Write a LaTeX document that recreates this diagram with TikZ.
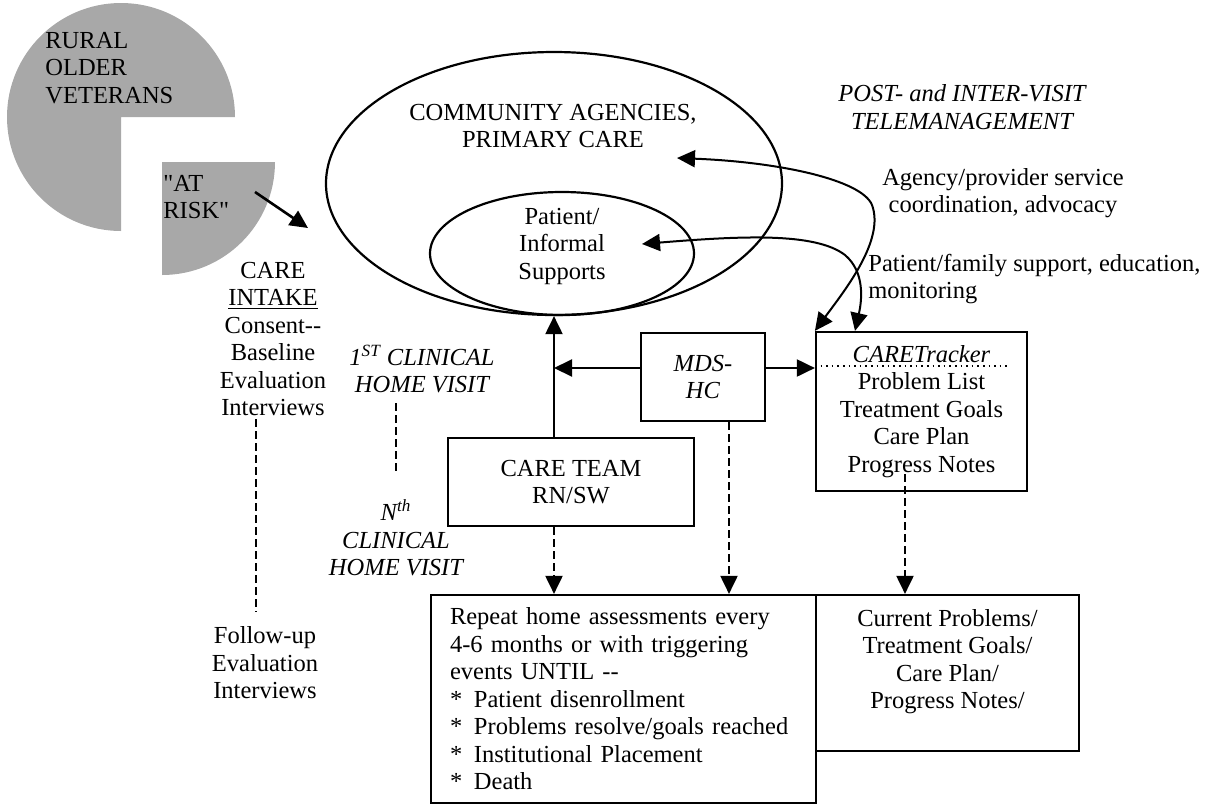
\documentclass[tikz,border=0pt]{standalone}
\usepackage{fontspec}
\setmainfont{Liberation Serif}
\newfontfamily\plainserif{Liberation Serif}
\usetikzlibrary{shapes.geometric,arrows.meta,positioning}
\definecolor{halftone}{gray}{0.66}
\newcommand\diagfont{\fontsize{12.25}{13.75}\selectfont}

\begin{document}
\begin{tikzpicture}[x=0.5pt,y=-0.5pt,>={Triangle[length=9pt,width=8.5pt]},
  txt/.style={inner sep=0pt,align=center,font=\diagfont},
  itxt/.style={txt,font=\diagfont\itshape},
  box/.style={draw,line width=1.1pt,inner sep=0pt,align=center,font=\diagfont},
  oval/.style={draw,ellipse,line width=1.1pt,inner sep=0pt},
  dashline/.style={line width=1pt,dash pattern=on 4pt off 2pt},
  link/.style={->,line width=1pt}]
 \useasboundingbox (0,0) rectangle (1207,805);

 % population and the at-risk slice
 \fill[halftone] (121,117) -- (121,231) arc[start angle=90,end angle=360,radius=114] -- cycle;
 \fill[halftone] (162,162) -- (275,162) arc[start angle=0,end angle=90,radius=113] -- cycle;
 \node[txt,align=left,anchor=west] (rural) at (45,68) {RURAL\\OLDER\\VETERANS};
 \node[txt,align=left,anchor=west,font=\diagfont\plainserif] (risk) at (163,197) {"AT\\RISK"};

 % community
 \node[oval,minimum width=228pt,minimum height=131.5pt] (comm) at (554,183.5) {};
 \node[oval,minimum width=132pt,minimum height=61.5pt] (supp) at (562,253.5) {};
 \node[txt] (commtxt) at (553,126) {COMMUNITY AGENCIES,\\PRIMARY CARE};
 \node[txt] (supptxt) at (562,246) {Patient/\\Informal\\Supports};

 % evaluation column and visits
 \node[txt] (intake) at (273,339) {CARE\\\underline{INTAKE}\\Consent-{}-\\Baseline\\Evaluation\\Interviews};
 \node[txt] (followup) at (265,663) {Follow-up\\Evaluation\\Interviews};
 \node[itxt] (first) at (422,369) {1\textsuperscript{ST} CLINICAL\\HOME VISIT};
 \node[itxt] (nth) at (396,538) {N\textsuperscript{th}\\CLINICAL\\HOME VISIT};

 % boxes
 \node[box,minimum width=62pt,minimum height=44pt,font=\diagfont\itshape] (mds) at (703,377) {MDS-\\HC};
 \node[box,minimum width=123pt,minimum height=44pt] (team) at (571,482) {CARE TEAM\\RN/SW};
 \node[box,minimum width=105.5pt,minimum height=79.5pt] (tracker) at (921.5,411.5)
   {\textit{CARETracker}\\Problem List\\Treatment Goals\\Care Plan\\Progress Notes};
 \node[box,minimum width=192.5pt,minimum height=104pt,text width=173.5pt,align=left] (repeat) at (623.5,699)
   {Repeat home assessments every\\4-6 months or with triggering\\events UNTIL -{}-\\
    \makebox[12pt][l]{*}Patient disenrollment\\\makebox[12pt][l]{*}Problems resolve/goals reached\\
    \makebox[12pt][l]{*}Institutional Placement\\\makebox[12pt][l]{*}Death};
 \node[box,minimum width=131.5pt,minimum height=78pt] (current) at (947.5,673) {};
 \node[txt,below=7.5pt of current.north] (currtxt) {Current Problems/\\Treatment Goals/\\Care Plan/\\Progress Notes/};

 % telemanagement
 \node[itxt] (tele) at (962,107) {POST- and INTER-VISIT\\TELEMANAGEMENT};
 \node[txt] (agency) at (1003,193) {Agency/provider service\\coordination, advocacy};
 \node[txt,align=left,anchor=west] (family) at (868,279) {Patient/family support, education,\\monitoring};

 \coordinate (riskout) at (255,192);
 \coordinate (intakein) at (308,228);
 \coordinate (commin) at (677,158);
 \coordinate (suppin) at (642,244);

 \draw[link,line width=1.3pt] (riskout) -- (intakein);
 \draw[link] (team.north -| comm.south) -- (comm.south);
 \draw[link] ([yshift=4.5pt]mds.west) -- ([yshift=4.5pt]mds.west -| comm.south);
 \draw[link] ([yshift=4.5pt]mds.east) -- ([yshift=4.5pt]mds.east -| tracker.west);
 \draw[<->,line width=1pt] (commin) .. controls (780,162) and (862,180) .. (872,205)
   .. controls (885,240) and (845,290) .. (tracker.north west);
 \draw[<->,line width=1pt] (suppin) .. controls (740,236) and (815,232) .. (845,255)
   .. controls (865,272) and (862,300) .. ([xshift=-33.25pt]tracker.north);
 \draw[dotted,line width=0.8pt] ([yshift=-17.5pt]tracker.north west) -- ([xshift=-10pt,yshift=-17.5pt]tracker.north east);

 \draw[dashline,->] (team.south -| comm.south) -- (repeat.north -| comm.south);
 \draw[dashline,->] ([xshift=13pt]mds.south) -- ([xshift=13pt]mds.south |- repeat.north);
 \draw[dashline,->] ([xshift=-8.25pt,yshift=9pt]tracker.south) -- ([xshift=-8.25pt]tracker.south |- current.north);
 \draw[dashline] ([xshift=-8.5pt,yshift=-1.5pt]intake.south) -- ([xshift=-4.5pt,yshift=7pt]followup.north);
 \draw[dashline] ([xshift=-13pt,yshift=-5pt]first.south) -- ([yshift=13pt]nth.north);
\end{tikzpicture}
\end{document}
